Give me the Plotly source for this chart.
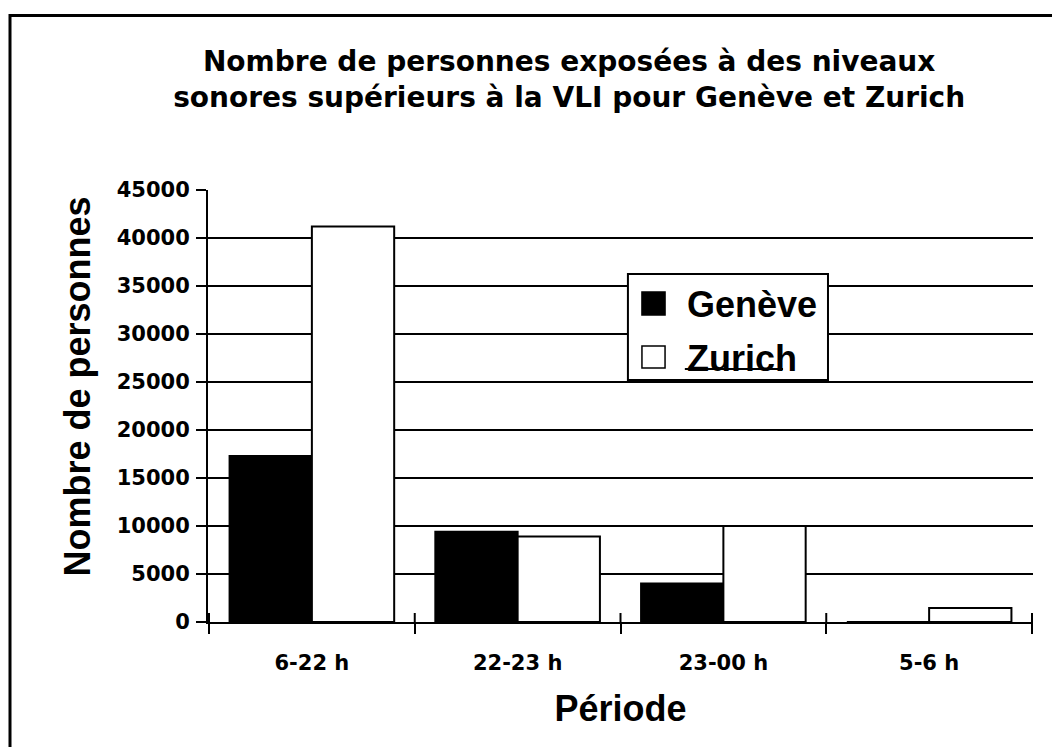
import plotly.graph_objects as go

periodes = ["6-22 h", "22-23 h", "23-00 h", "5-6 h"]
geneve = [17300, 9400, 4000, 0]
zurich = [41200, 8900, 10000, 1450]
noms = ["Genève", "Zurich"]
couleurs = ["black", "white"]
y_ticks = list(range(0, 45001, 5000))

titre = "Nombre de personnes exposées à des niveaux<br>sonores supérieurs à la VLI pour Genève et Zurich"
wide = dict(family="DejaVu Sans", color="black", weight="bold")
arial = dict(family="Liberation Sans, Arial", color="black", weight="bold")

fig = go.Figure()
for nom, valeurs, couleur in zip(noms, [geneve, zurich], couleurs):
    fig.add_trace(go.Bar(x=periodes, y=valeurs, name=nom, marker=dict(color=couleur, line=dict(color="black", width=2)),
                         showlegend=False))

fig.update_layout(
    width=1052, height=747,
    margin=dict(l=208, r=19, t=190, b=125),
    paper_bgcolor="white", plot_bgcolor="white",
    bargap=0.2, bargroupgap=0,
    title=dict(text=titre, x=0.541, xanchor="center", yref="container", y=1 - 71 / 747, yanchor="top",
               font=dict(size=28, **wide)),
)
fig.update_xaxes(type="category", showline=True, linecolor="black", linewidth=2, mirror=False,
                 ticks="outside", tickson="boundaries", ticklen=10, tickwidth=2, tickcolor="black",
                 tickfont=dict(size=21, **wide), ticklabelstandoff=21,
                 title=dict(text="Période", font=dict(size=36, **arial), standoff=22))
fig.update_yaxes(range=[0, 45000], tickvals=y_ticks, tickformat="d", showgrid=True, gridcolor="black", gridwidth=1.5,
                 showline=True, linecolor="black", linewidth=2, zeroline=False,
                 ticks="outside", ticklen=10, tickwidth=2, tickcolor="black",
                 tickfont=dict(size=21, **wide), ticklabelstandoff=2)

# inner half of the crossing ticks on the category axis
for i in range(len(periodes) + 1):
    fig.add_shape(type="line", xref="x", yref="y", ysizemode="pixel", yanchor=0, x0=i - 0.5, x1=i - 0.5, y0=0, y1=9,
                  line=dict(color="black", width=2))

fig.add_annotation(text="Nombre de personnes", xref="paper", yref="paper", x=-0.1576, y=0.545,
                   xanchor="center", yanchor="middle", textangle=-90, showarrow=False, font=dict(size=36, **arial))

# outer frame
fig.add_shape(type="rect", xref="paper", yref="paper", x0=(10 - 208) / 825, x1=(1070 - 208) / 825,
              y0=(622 - 770) / 432, y1=(622 - 15.5) / 432, line=dict(color="black", width=3))

# legend box drawn by hand so the swatches get the reference size
fig.add_shape(type="rect", xref="paper", yref="paper", x0=0.509, x1=0.7515, y0=0.560, y1=0.8056,
              fillcolor="white", line=dict(color="black", width=2), layer="above")
swatch_y = [(0.7106, 0.764), (0.588, 0.639)]
text_y = [0.735, 0.610]
for nom, couleur, (y0, y1), ty in zip(noms, couleurs, swatch_y, text_y):
    fig.add_shape(type="rect", xref="paper", yref="paper", x0=0.526, x1=0.554, y0=y0, y1=y1,
                  fillcolor=couleur, line=dict(color="black", width=1.5), layer="above")
    fig.add_annotation(text=nom, xref="paper", yref="paper", x=0.578, y=ty, xanchor="left", yanchor="middle",
                       showarrow=False, font=dict(size=36, **arial))
fig.add_shape(type="line", xref="paper", yref="paper", x0=0.578, x1=0.697, y0=(622 - 369) / 432, y1=(622 - 369) / 432,
              line=dict(color="black", width=2), layer="above")

fig.write_html("out.html", config={"displayModeBar": False},
               post_script="document.body.style.margin = '0';")
